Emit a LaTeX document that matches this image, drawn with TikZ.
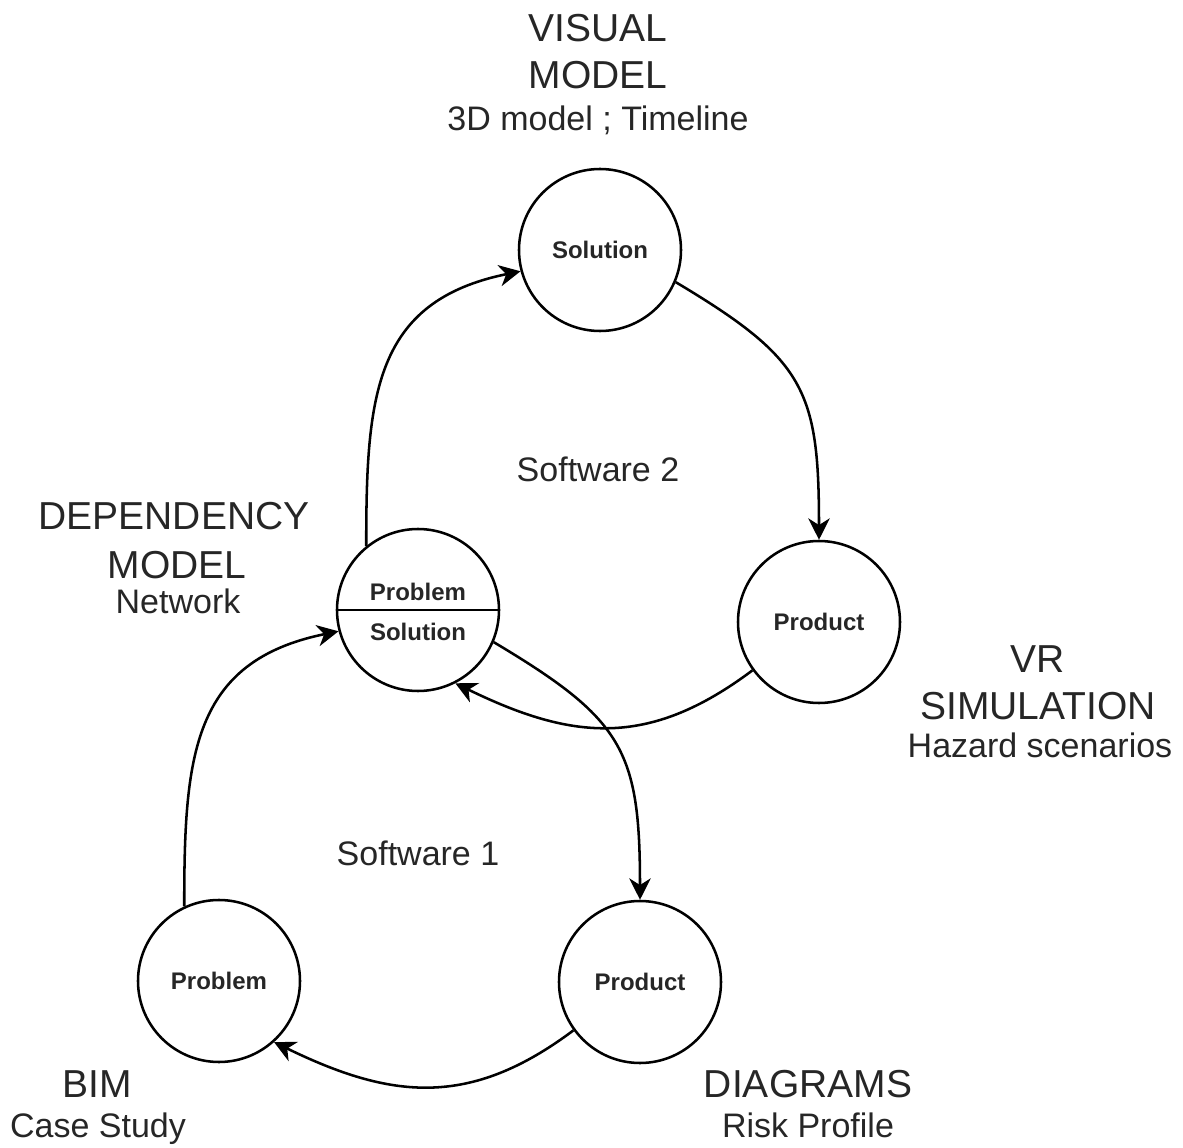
\documentclass[tikz,border=0pt]{standalone}
\usepackage{fontspec}
\setmainfont{Liberation Sans}
\usetikzlibrary{arrows.meta}
\definecolor{txt}{RGB}{38,38,38}
\begin{document}
\begin{tikzpicture}[x=0.75pt,y=-0.75pt,
  circ/.style={circle, draw=black, line width=1.9pt, minimum size=121.5pt, inner sep=0pt,
    font=\fontsize{18}{21}\selectfont\bfseries, text=txt},
  big/.style={anchor=base, font=\fontsize{29.25}{35}\selectfont, text=txt, inner sep=0pt},
  small/.style={anchor=base, font=\fontsize{25.5}{30}\selectfont, text=txt, inner sep=0pt},
  lbl/.style={anchor=base, font=\fontsize{18}{21}\selectfont\bfseries, text=txt, inner sep=0pt},
  flow/.style={line width=1.9pt, -{Stealth[length=16pt,width=16pt,inset=5pt]}}
]
\useasboundingbox (0,0) rectangle (1183,1148);

% circles
\node[circ] (top) at (600,250) {Solution};
\node[circ] (mid) at (418,610) {};
\node[circ] (right) at (819,622) {Product};
\node[circ] (bprob) at (219,981) {Problem};
\node[circ] (bprod) at (640,982) {Product};
\draw[line width=1.9pt] (mid.west) -- (mid.east);
\node[lbl] (midp) at (418,600) {Problem};
\node[lbl] (mids) at (418,640) {Solution};

% connectors
\draw[flow] (mid.129) .. controls +(0,-150) and +(-147,30) .. (top.195);
\draw[flow] (bprob.115) .. controls +(0,-150) and +(-147,30) .. (mid.195);
\draw[flow] (top.-23) .. controls +(129,77) and +(0,-150) .. (right.90);
\draw[flow] (mid.-23) .. controls +(129,77) and +(0,-150) .. (bprod.90);
\draw[flow] (right.216) .. controls +(-104,78) and +(117,57) .. (mid.297);
\draw[flow] (bprod.216) .. controls +(-104,78) and +(117,57) .. (bprob.312);

% labels
\node[big] (v1) at (598,42) {VISUAL};
\node[big] (v2) at (598,89) {MODEL};
\node[small] (v3) at (598,131) {3D model ; Timeline};
\node[big] (d1) at (174,530) {DEPENDENCY};
\node[big] (d2) at (177,578) {MODEL};
\node[small] (d3) at (178,613) {Network};
\node[big] (r1) at (1038,672) {VR};
\node[big] (r2) at (1038,719) {SIMULATION};
\node[small] (r3) at (1040,757) {Hazard scenarios};
\node[big] (b1) at (97,1097) {BIM};
\node[small] (b2) at (98,1137) {Case Study};
\node[big] (g1) at (808,1097) {DIAGRAMS};
\node[small] (g2) at (808,1137) {Risk Profile};
\node[small] (s2) at (598,482) {Software 2};
\node[small] (s1) at (418,865) {Software 1};
\end{tikzpicture}
\end{document}
